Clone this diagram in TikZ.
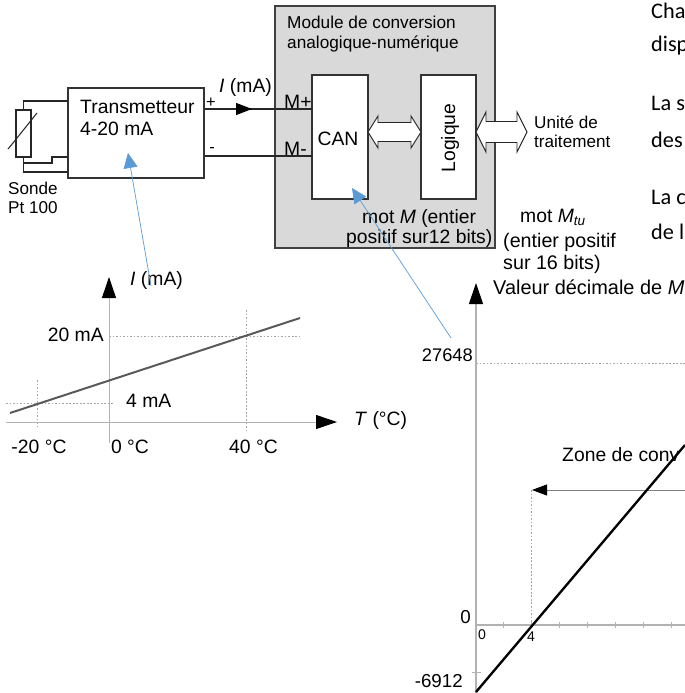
\documentclass[tikz,border=0pt]{standalone}
\usepackage{fontspec}
\setmainfont{Liberation Sans}
\newfontfamily\bodyfont{Carlito}
\usetikzlibrary{arrows.meta}
\definecolor{notecol}{HTML}{5B9BD5}
\tikzset{
  lbl/.style={inner sep=0pt,align=left,font=\fontsize{16.5}{19}\selectfont},
  lblmod/.style={inner sep=0pt,align=left,font=\fontsize{14.7}{17}\selectfont},
  lblsmall/.style={inner sep=0pt,align=left,font=\fontsize{14.6}{16.5}\selectfont},
  tick/.style={inner sep=0pt,font=\fontsize{12}{14}\selectfont},
  body/.style={inner sep=0pt,anchor=west,font=\bodyfont\fontsize{19}{21}\selectfont},
  bloc/.style={draw=black!80,line width=1.1pt,fill=white,inner sep=0pt},
  wire/.style={draw=black!85,line width=0.9pt},
  axis/.style={draw=black!30,line width=0.8pt},
  guide/.style={draw=black!35,line width=0.4pt,dash pattern=on 1.5pt off 1.5pt},
  dblarrow/.style={draw=black!85,fill=white,line width=0.8pt},
  note/.style={draw=notecol,line width=0.6pt,-{Triangle[notecol,length=0.45cm,width=0.42cm]}},
}
% x gauche, x droite, y, longueur de tete, demi tete, demi corps
\newcommand{\dblbus}[6]{
	\draw[dblarrow] (#1,#3) -- (#1+#4,#3-#5) -- (#1+#4,#3-#6) -- (#2-#4,#3-#6) -- (#2-#4,#3-#5) -- (#2,#3)
		-- (#2-#4,#3+#5) -- (#2-#4,#3+#6) -- (#1+#4,#3+#6) -- (#1+#4,#3+#5) -- cycle;
}
\begin{document}
\begin{tikzpicture}[x=0.03cm,y=-0.03cm]
	\useasboundingbox (0,0) rectangle (685,693);
	\clip (0,0) rectangle (685,693);
	% module
	\node[draw=black!75,line width=1.1pt,fill=black!15,minimum width=6.6cm,minimum height=7.26cm,inner sep=0pt] (module) at (385,127) {};
	\node[bloc,minimum width=1.68cm,minimum height=3.72cm] (can) at (340,137) {};
	\node[bloc,minimum width=1.65cm,minimum height=3.72cm] (logique) at (448.5,137) {};
	\node[lbl] (cantxt) at (338,139) {CAN};
	\node[lbl,rotate=90] (logtxt) at (450,138) {Logique};
	\node[lblmod,anchor=north west] (modtxt) at (287,16) {Module de conversion\\analogique-numérique};
	\dblbus{368}{421}{132}{10}{16}{9.5}
	\dblbus{476}{527}{132}{10}{20}{10.5}
	\node[lblsmall,anchor=north west] (unite) at (534,115.5) {Unité de\\traitement};
	% transmetteur
	\node[bloc,minimum width=4.08cm,minimum height=2.7cm] (trans) at (136,133) {};
	\node[lbl,anchor=north west] (transtxt) at (80,99.5) {Transmetteur\\4-20 mA};
	\node[draw=black!85,line width=0.9pt,minimum width=0.45cm,minimum height=1.41cm,inner sep=0pt] (sonde) at (23.5,133.5) {};
	\node[lblsmall,anchor=north west] (sondetxt) at (8,182) {Sonde\\Pt 100};
	\coordinate (ta) at (68,101);
	\coordinate (tb) at (68,157);
	\coordinate (tc) at (68,172);
	\coordinate (mp) at (312,109);
	\coordinate (mm) at (312,156);
	\draw[wire] (sonde.north) |- (ta);
	\draw[wire] (sonde.south) |- (tc);
	\draw[wire] (23,163) -- (52,163) -- (52,157) -- (tb);
	\draw[wire] (8,149) -- (13,143) -- (37,113);
	\draw[wire] (mp -| trans.east) -- (mp);
	\draw[wire] (mm -| trans.east) -- (mm);
	\draw[wire,-{Triangle[black,length=0.48cm,width=0.36cm]}] (mp -| trans.east) -- (252,109);
	\node[lbl] (ptxt) at (211,103) {\fontsize{14}{14}\selectfont +};
	\node[lbl] (mtxt) at (212,150) {\fontsize{14}{14}\selectfont -};
	\node[lbl,anchor=west] (itxt) at (219,87) {\textit{I} (mA)};
	\node[lbl,anchor=west] (mptxt) at (284,102) {M+};
	\node[lbl,anchor=west] (mmtxt) at (284,149) {M-};
	\node[lbl,anchor=west] (mottxt) at (362,218) {mot \textit{M} (entier};
	\node[lbl,anchor=west] (postxt) at (346,238) {positif sur12 bits)};
	\node[lbl,anchor=west] (mtutxt) at (520,217) {mot \textit{M}$_{\mathit{tu}}$};
	\node[lbl,anchor=north west,font=\fontsize{16.8}{19}\selectfont] (enttxt) at (503,232.5) {(entier positif\\sur 16 bits)};
	% courbe I(T)
	\coordinate (yo) at (109,443);
	\coordinate (yh) at (109,277);
	\coordinate (xo) at (6,422);
	\coordinate (xh) at (337,422);
	\draw[guide] (109,336) -- (300,336);
	\draw[guide] (6,403) -- (114,403);
	\draw[guide] (37,380) -- (37,426);
	\draw[guide] (246,310) -- (246,430);
	\draw[axis,-{Triangle[black,length=0.63cm,width=0.42cm]}] (yo) -- (yh);
	\draw[axis,-{Triangle[black,length=0.63cm,width=0.42cm]}] (xo) -- (xh);
	\draw[black!65,line width=1.7pt] (10,413) -- (300,318);
	\node[lbl,anchor=east] (a20) at (104,335) {20 mA};
	\node[lbl,anchor=west] (a4) at (126,401) {4 mA};
	\node[lbl] (tm20) at (39,447) {-20 °C};
	\node[lbl] (t0) at (130,447) {0 °C};
	\node[lbl] (t40) at (253.5,447) {40 °C};
	\node[lbl,anchor=west] (ttxt) at (354,420) {\textit{T} (°C)};
	\node[lbl,anchor=west] (ctxt) at (130,280) {\textit{I} (mA)};
	% courbe M
	\coordinate (vo) at (476,693);
	\coordinate (vh) at (476,283);
	\coordinate (zd) at (685,490);
	\coordinate (zg) at (532,490);
	\draw[axis,line width=1pt] (476,625) -- (685,625);
	\foreach \k in {1,...,7}
	{
		\draw[axis] (476+\k*27.9,622) -- (476+\k*27.9,628);
	}
	\draw[axis] (472,672) -- (481,672);
	\draw[guide] (476,363) -- (685,363);
	\draw[guide] (531,490) -- (531,625);
	\draw[axis,line width=1pt,-{Triangle[black,length=0.63cm,width=0.42cm]}] (vo) -- (vh);
	\draw[draw=black!50,line width=0.7pt,-{Triangle[black,length=0.45cm,width=0.33cm]}] (zd) -- (zg);
	\node[lbl,anchor=west,font=\fontsize{17}{21}\selectfont] (valtxt) at (493,287) {Valeur décimale de \textit{M}};
	\node[lbl,anchor=east,font=\fontsize{15.6}{19}\selectfont] (v27) at (473,355) {27648};
	\node[lbl,anchor=east,font=\fontsize{16}{19}\selectfont] (v0) at (471,617) {0};
	\node[lbl,anchor=east,font=\fontsize{16}{19}\selectfont] (v69) at (463,681) {-6912};
	\node[tick] (x0) at (482,635) {0};
	\node[tick] (x4) at (531,637) {4};
	\node[lbl,anchor=west] (zone) at (562,455) {Zone de conv};
	\draw[black,line width=2pt] (476,692) -- (685,445);
	% texte coupe
	\node[body] (l1) at (651,11) {Cha};
	\node[body] (l2) at (651,46) {disp};
	\node[body] (l3) at (651,103) {La s};
	\node[body] (l4) at (651,140) {des};
	\node[body] (l5) at (651,197) {La c};
	\node[body] (l6) at (651,232) {de l};
	% fleches bleues
	\coordinate (na) at (151,286);
	\coordinate (nb) at (128,153);
	\coordinate (nc) at (451,338);
	\coordinate (nd) at (352,188);
	\draw[note] (na) -- (nb);
	\draw[note] (nc) -- (nd);
\end{tikzpicture}
\end{document}
